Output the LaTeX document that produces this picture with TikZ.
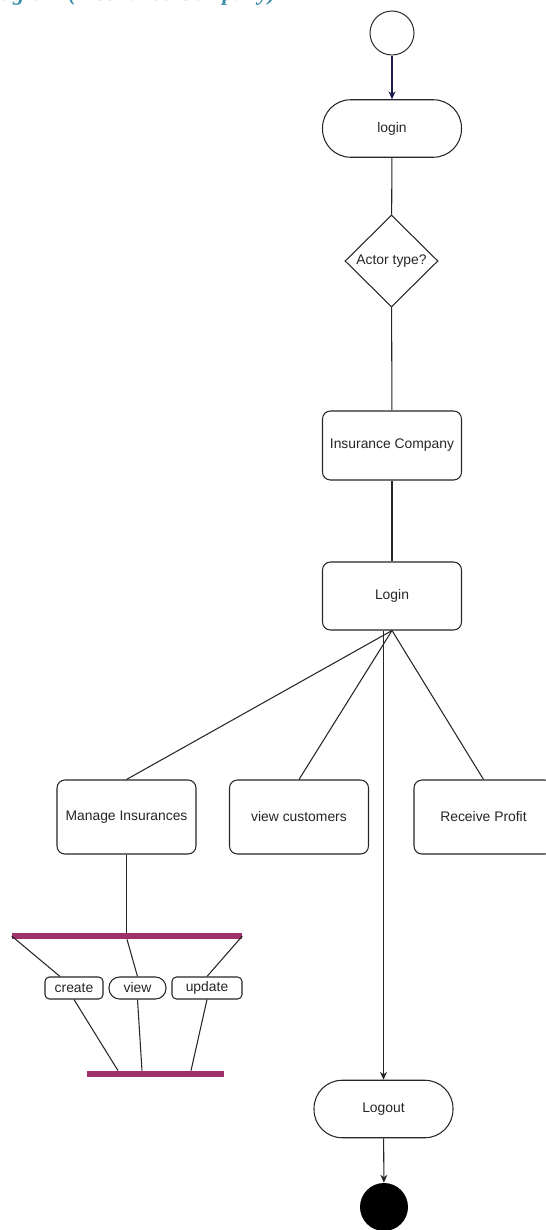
\documentclass[tikz,border=0pt]{standalone}
\usepackage{fontspec}
\setmainfont{Liberation Sans}
\newfontfamily\headfont{Liberation Serif}
\usetikzlibrary{arrows.meta,shapes.geometric}

\definecolor{barpurple}{HTML}{A0306A}
\definecolor{headteal}{HTML}{3A8DAA}
\definecolor{startnavy}{HTML}{1C1C4C}

\begin{document}
\begin{tikzpicture}[x=0.02cm, y=-0.02cm,
    every node/.style={font=\fontsize{7.9}{9.5}\selectfont, text=black!85},
    conn/.style={line width=0.6pt, draw=black!85},
    arr/.style={conn, -{Stealth[length=4.5pt, width=4pt]}},
    startstate/.style={circle, draw=black!80, line width=0.6pt, minimum size=0.88cm, inner sep=0pt},
    endstate/.style={circle, fill=black, minimum size=0.96cm, inner sep=0pt},
    pill/.style={draw=black!85, line width=0.6pt, minimum width=2.78cm, minimum height=1.15cm, rounded corners=16pt},
    activity/.style={draw=black!85, line width=0.6pt, minimum width=2.78cm, rounded corners=4.5pt},
    decision/.style={diamond, aspect=1, draw=black!85, line width=0.6pt, inner sep=0pt, minimum width=1.86cm, minimum height=1.84cm},
    small/.style={draw=black!85, line width=0.6pt, minimum height=0.44cm, inner sep=1pt},
    syncbar/.style={fill=barpurple, minimum height=0.12cm, inner sep=0pt}]

\useasboundingbox (0,0) rectangle (546,1230);

% heading (cut off at the top)
    \node[anchor=base east, font=\headfont\bfseries\itshape\fontsize{13}{13}\selectfont, text=headteal]
        (heading) at (282,0.5) {Activity Diagram (Insurance Company)};

% main flow
    \node[startstate] (init) at (392,33) {};
    \node[pill] (login) at (392,128.5) {login};
    \node[decision] (actor) at (391.5,261) {Actor type?};
    \node[activity, minimum height=1.38cm] (company) at (392,445.5) {Insurance Company};
    \node[activity, minimum height=1.36cm] (login2) at (392,596) {Login};

% tasks
    \node[activity, minimum height=1.48cm] (manage) at (126.5,817) {Manage Insurances};
    \node[activity, minimum height=1.48cm] (customers) at (299,817) {view customers};
    \node[activity, minimum height=1.48cm] (profit) at (483.5,817) {Receive Profit};

% fork and join
    \node[syncbar, minimum width=4.6cm] (forkbar) at (127,936) {};
    \node[small, minimum width=1.16cm, rounded corners=2.5pt] (create) at (74,988) {create};
    \node[small, minimum width=1.14cm, rounded corners=6pt] (view) at (137.5,988) {view};
    \node[small, minimum width=1.40cm, rounded corners=2.5pt] (update) at (207,988) {update};
    \node[syncbar, minimum width=2.74cm] (joinbar) at (155.5,1074) {};

% end
    \node[pill] (logout) at (383.5,1109) {Logout};
    \node[endstate] (final) at (384,1207) {};

% connectors
    \draw[arr, draw=startnavy] (init) -- (login);
    \draw[conn] (login) -- (actor);
    \draw[conn] (actor) -- (company);
    \draw[conn] (company) -- (login2);
    \draw[conn] (login2.south) -- (manage.north);
    \draw[conn] (login2.south) -- (customers.north);
    \draw[conn] (login2.south) -- (profit.north);
    \draw[arr] (login2.south -| logout.north) -- (logout.north);
    \draw[arr] (logout) -- (final);

    \draw[conn] (manage.south) -- (manage.south |- forkbar.north);
    \draw[conn] (forkbar.west) -- ([xshift=-0.28cm]create.north);
    \draw[conn] (forkbar.south) -- (view.north);
    \draw[conn] (forkbar.east) -- (update.north);
    \draw[conn] (create.south) -- ([xshift=-0.75cm]joinbar.north);
    \draw[conn] (view.south) -- ([xshift=-0.27cm]joinbar.north);
    \draw[conn] (update.south) -- ([xshift=0.71cm]joinbar.north);
\end{tikzpicture}
\end{document}
